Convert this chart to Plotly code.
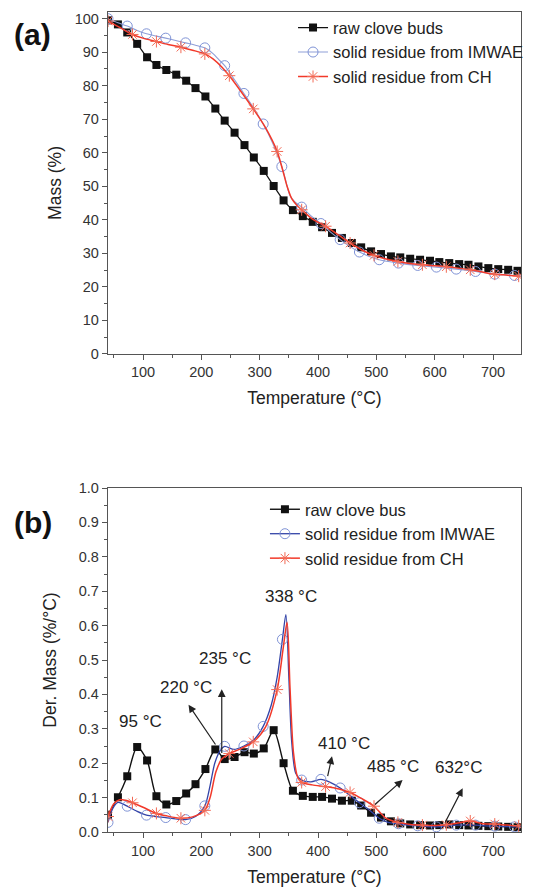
import plotly.graph_objects as go

# ---------------- data ----------------
temp_raw = [40, 57, 73, 90, 107, 123, 140, 157, 174, 190, 207, 224, 240, 257, 274, 290, 307, 324,
            341, 357, 374, 391, 407, 424, 441, 458, 474, 491, 508, 525, 541, 558, 575, 592, 608,
            625, 642, 658, 675, 692, 709, 726, 742]
mass_raw = [99.5, 98.3, 95.9, 92.5, 88.5, 86.2, 84.7, 83.3, 81.5, 79.3, 76.8, 73.2, 69.6, 66.0,
            62.3, 58.6, 54.6, 50.1, 45.8, 42.9, 41.1, 39.4, 37.8, 36.1, 34.6, 33.1, 31.8, 30.6,
            29.8, 29.1, 28.8, 28.4, 28.1, 27.8, 27.4, 27.1, 26.8, 26.6, 26.1, 25.6, 25.3, 25.1, 24.8]
dtg_raw = [0.050, 0.101, 0.162, 0.247, 0.208, 0.104, 0.080, 0.090, 0.112, 0.139, 0.183, 0.240,
           0.212, 0.218, 0.232, 0.228, 0.243, 0.296, 0.200, 0.120, 0.105, 0.102, 0.102, 0.097,
           0.091, 0.091, 0.077, 0.056, 0.042, 0.031, 0.025, 0.022, 0.020, 0.019, 0.020, 0.022,
           0.020, 0.019, 0.018, 0.017, 0.016, 0.015, 0.014]

temp_imwae_tg = [40, 57, 73, 90, 106, 123, 139, 156, 173, 190, 206, 220, 230, 240, 256, 273, 290,
                 306, 322, 338, 345, 352, 360, 372, 388, 405, 421, 438, 455, 471, 488, 505, 538,
                 571, 603, 637, 670, 703, 737, 748]
mass_imwae = [100.0, 98.8, 97.8, 96.5, 95.5, 94.8, 94.2, 93.5, 92.8, 92.1, 91.3, 89.6, 87.8, 86.0,
              82.0, 77.7, 73.3, 68.6, 63.0, 55.9, 51.5, 47.2, 45.4, 43.8, 41.2, 38.9, 36.4, 34.1,
              32.0, 30.4, 29.1, 28.1, 27.1, 26.4, 25.9, 25.3, 24.6, 23.8, 23.4, 23.2]
temp_imwae_dtg = [40, 48, 57, 65, 73, 90, 106, 123, 139, 156, 173, 190, 206, 215, 223, 232, 240,
                  256, 273, 290, 306, 320, 330, 339, 345, 350, 355, 362, 372, 388, 405, 420, 438,
                  455, 471, 488, 505, 520, 538, 555, 571, 587, 603, 620, 637, 655, 670, 687, 703,
                  720, 737, 748]
dtg_imwae = [0.028, 0.068, 0.086, 0.082, 0.075, 0.060, 0.049, 0.045, 0.042, 0.038, 0.036, 0.045,
             0.076, 0.135, 0.200, 0.236, 0.249, 0.240, 0.250, 0.268, 0.307, 0.370, 0.450, 0.560,
             0.632, 0.450, 0.260, 0.170, 0.151, 0.146, 0.153, 0.145, 0.128, 0.106, 0.085, 0.064,
             0.040, 0.028, 0.024, 0.020, 0.018, 0.016, 0.015, 0.017, 0.020, 0.021, 0.020, 0.018,
             0.017, 0.016, 0.015, 0.015]
imwae_marker_tg = [40, 73, 106, 139, 173, 206, 240, 273, 306, 338, 372, 405, 438, 471, 505, 538,
                   571, 603, 637, 670, 703, 737]
imwae_marker_dtg = [40, 73, 106, 139, 173, 206, 240, 273, 306, 339, 372, 405, 438, 471, 505, 538,
                    571, 603, 637, 670, 703, 737]

temp_ch_tg = [40, 60, 82, 100, 123, 143, 165, 185, 206, 220, 235, 248, 268, 289, 310, 330, 340,
              347, 355, 363, 372, 390, 413, 435, 455, 475, 496, 515, 537, 557, 579, 600, 620, 640,
              661, 680, 703, 725, 744]
mass_ch = [99.3, 97.4, 95.3, 94.2, 93.2, 92.3, 91.5, 90.6, 89.5, 88.0, 85.6, 83.0, 78.3, 73.1,
           67.5, 60.4, 54.5, 50.0, 46.3, 44.5, 43.0, 40.3, 38.1, 35.5, 33.1, 31.0, 29.4, 28.4,
           27.6, 27.0, 26.6, 26.3, 26.0, 25.6, 25.1, 24.5, 23.8, 23.5, 23.2]
temp_ch_dtg = [40, 50, 60, 70, 82, 100, 123, 140, 165, 185, 206, 215, 225, 235, 248, 265, 289,
               310, 330, 340, 347, 352, 358, 365, 372, 390, 413, 430, 455, 475, 496, 515, 537,
               558, 579, 600, 620, 640, 661, 680, 703, 725, 744]
dtg_ch = [0.045, 0.082, 0.094, 0.092, 0.085, 0.072, 0.054, 0.047, 0.040, 0.044, 0.063, 0.100,
          0.175, 0.212, 0.228, 0.240, 0.262, 0.305, 0.414, 0.530, 0.610, 0.420, 0.230, 0.160,
          0.144, 0.137, 0.132, 0.127, 0.115, 0.097, 0.075, 0.042, 0.028, 0.022, 0.020, 0.019,
          0.021, 0.026, 0.032, 0.025, 0.023, 0.020, 0.018]
ch_marker = [40, 82, 123, 165, 206, 248, 289, 330, 372, 413, 455, 496, 537, 579, 620, 661, 703, 744]

names_a = ["raw clove buds", "solid residue from IMWAE", "solid residue from CH"]
names_b = ["raw clove bus", "solid residue from IMWAE", "solid residue from CH"]

label_text = ["95 °C", "220 °C", "235 °C", "338 °C", "410 °C", "485 °C", "632°C"]
label_x = [95, 174, 240, 354, 444, 529, 641]
label_y = [0.32, 0.42, 0.505, 0.686, 0.257, 0.19, 0.187]

arrow_tail_x = [226, 235, 416, 495, 617]
arrow_tail_y = [0.25, 0.225, 0.158, 0.076, 0.025]
arrow_head_x = [178, 235, 424, 545, 648]
arrow_head_y = [0.37, 0.415, 0.22, 0.151, 0.127]

# ---------------- styles ----------------
BLACK = "#111111"
BLUE_A = "#8f9fd8"
BLUE_B = "#3344a8"
CIRC = "#7f93d6"
RED = "#f2392a"
AST = "#f26a55"
FONT = "Liberation Sans, Arial, sans-serif"


def pick(tx, ty, marks):
    d = dict(zip(tx, ty))
    return [d[m] for m in marks]


fig = go.Figure()

sq = dict(symbol="square", size=8, color=BLACK)
circ = dict(symbol="circle-open", size=10, color=CIRC, line=dict(width=1))
ast = dict(symbol="asterisk-open", size=10, color=AST, line=dict(width=1, color=AST))


def add_series(tx, ty, mtx, mty, xa, ya, lcolor, lwidth, marker, name, legend):
    fig.add_trace(go.Scatter(x=tx, y=ty, mode="lines",
                             line=dict(color=lcolor, width=lwidth, shape="spline", smoothing=0.8),
                             xaxis=xa, yaxis=ya, showlegend=False, hoverinfo="skip"))
    fig.add_trace(go.Scatter(x=mtx, y=mty, mode="markers", marker=marker,
                             xaxis=xa, yaxis=ya, showlegend=False))
    fig.add_trace(go.Scatter(x=[None], y=[None], mode="lines+markers", name=name,
                             line=dict(color=lcolor, width=lwidth), marker=marker,
                             xaxis=xa, yaxis=ya, legend=legend))


# panel (a)
add_series(temp_raw, mass_raw, temp_raw, mass_raw, "x", "y", BLACK, 1.2, sq, names_a[0], "legend")
add_series(temp_imwae_tg, mass_imwae, imwae_marker_tg, pick(temp_imwae_tg, mass_imwae, imwae_marker_tg),
           "x", "y", BLUE_A, 1.1, circ, names_a[1], "legend")
add_series(temp_ch_tg, mass_ch, ch_marker, pick(temp_ch_tg, mass_ch, ch_marker),
           "x", "y", RED, 1.5, ast, names_a[2], "legend")

# panel (b)
add_series(temp_raw, dtg_raw, temp_raw, dtg_raw, "x2", "y2", BLACK, 1.4, sq, names_b[0], "legend2")
add_series(temp_imwae_dtg, dtg_imwae, imwae_marker_dtg, pick(temp_imwae_dtg, dtg_imwae, imwae_marker_dtg),
           "x2", "y2", BLUE_B, 1.3, circ, names_b[1], "legend2")
add_series(temp_ch_dtg, dtg_ch, ch_marker, pick(temp_ch_dtg, dtg_ch, ch_marker),
           "x2", "y2", RED, 1.5, ast, names_b[2], "legend2")

annotations = []
for t, x, y in zip(label_text, label_x, label_y):
    annotations.append(dict(x=x, y=y, xref="x2", yref="y2", text=t, showarrow=False,
                            font=dict(family=FONT, size=17, color="#222")))
for tx_, ty_, hx, hy in zip(arrow_tail_x, arrow_tail_y, arrow_head_x, arrow_head_y):
    annotations.append(dict(x=hx, y=hy, xref="x2", yref="y2", ax=tx_, ay=ty_, axref="x2", ayref="y2",
                            text="", showarrow=True, arrowhead=2, arrowsize=1.3, arrowwidth=1.2,
                            arrowcolor="#222"))
annotations.append(dict(x=-0.232, y=0.972, xref="paper", yref="paper", xanchor="left", yanchor="middle",
                        text="<b>(a)</b>", showarrow=False, font=dict(family=FONT, size=30, color="#111")))
annotations.append(dict(x=-0.232, y=0.377, xref="paper", yref="paper", xanchor="left", yanchor="middle",
                        text="<b>(b)</b>", showarrow=False, font=dict(family=FONT, size=30, color="#111")))

axis_common = dict(showline=True, linecolor="#555", linewidth=1.3, mirror=True, ticks="outside",
                   ticklen=5, tickwidth=1.2, tickcolor="#555", showgrid=False, zeroline=False,
                   automargin=False, tickfont=dict(family=FONT, size=14.5, color="#333"))

fig.update_layout(
    width=539, height=891,
    margin=dict(l=108, r=18, t=12, b=59, autoexpand=False),
    paper_bgcolor="white", plot_bgcolor="white",
    font=dict(family=FONT, color="#222"),
    xaxis=dict(domain=[0, 1], anchor="y", range=[40, 748], dtick=100, tick0=0,
               minor=dict(ticks="outside", ticklen=3, dtick=50, tickcolor="#555"),
               title=dict(text="Temperature (°C)", font=dict(size=17.5), standoff=12), **axis_common),
    yaxis=dict(domain=[0.583, 1], anchor="x", range=[0, 102], dtick=10,
               minor=dict(ticks="outside", ticklen=3, dtick=5, tickcolor="#555"),
               title=dict(text="Mass (%)", font=dict(size=17.5), standoff=8), **axis_common),
    xaxis2=dict(domain=[0, 1], anchor="y2", range=[40, 748], dtick=100, tick0=0,
                minor=dict(ticks="outside", ticklen=3, dtick=50, tickcolor="#555"),
                title=dict(text="Temperature (°C)", font=dict(size=17.5), standoff=13), **axis_common),
    yaxis2=dict(domain=[0, 0.4195], anchor="x2", range=[0, 1.0], dtick=0.1, tickformat=".1f",
                minor=dict(ticks="outside", ticklen=3, dtick=0.05, tickcolor="#555"),
                title=dict(text="Der. Mass (%/°C)", font=dict(size=17.5), standoff=17), **axis_common),
    legend=dict(x=0.448, y=1.002, xanchor="left", yanchor="top", bgcolor="rgba(0,0,0,0)",
                font=dict(family=FONT, size=16.5, color="#222"), tracegroupgap=0),
    legend2=dict(x=0.38, y=0.4146, xanchor="left", yanchor="top", bgcolor="rgba(0,0,0,0)",
                 font=dict(family=FONT, size=16.5, color="#222"), tracegroupgap=0),
    annotations=annotations,
)

fig.write_html("out.html", config={"displayModeBar": False},
               post_script="document.body.style.margin='0';")
